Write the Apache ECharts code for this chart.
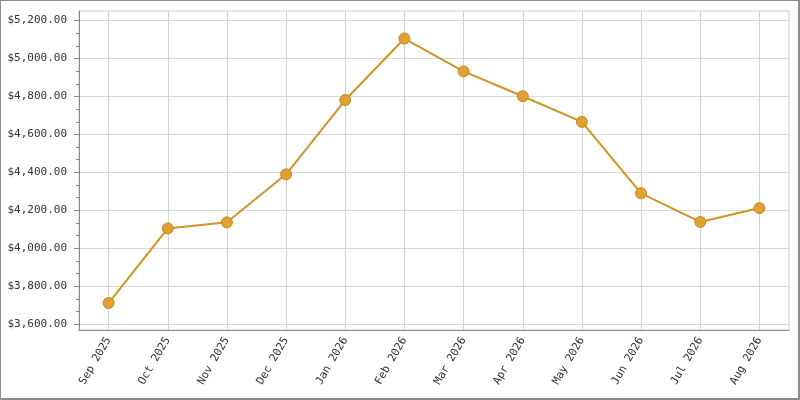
<!DOCTYPE html>
<html>
<head>
    <meta charset="utf-8">
    <title>Monthly amount</title>
    <script src="https://cdn.jsdelivr.net/npm/echarts@6/dist/echarts.min.js"></script>
    <style>
        body { margin: 0; background: #fff; }
        #chart1 { position: absolute; left: 0; top: 0; width: 800px; height: 400px; }
        #frame {
            position: absolute; left: 0; top: 0; width: 800px; height: 400px;
            box-sizing: border-box; pointer-events: none;
            border-style: solid; border-color: #8c8c8c;
            border-width: 1px 2px 2px 1px;
        }
    </style>
</head>
<body>
<div id="chart1"></div>
<div id="frame"></div>

<script type="text/javascript">
    // 月份
    var months = ['Sep 2025', 'Oct 2025', 'Nov 2025', 'Dec 2025', 'Jan 2026', 'Feb 2026',
                  'Mar 2026', 'Apr 2026', 'May 2026', 'Jun 2026', 'Jul 2026', 'Aug 2026'];
    // 金额
    var amounts = [3712, 4105, 4137, 4390, 4781, 5105, 4932, 4801, 4666, 4290, 4139, 4212];
    // y 轴刻度
    var yTicks = [3600, 3800, 4000, 4200, 4400, 4600, 4800, 5000, 5200];

    var yMin = 3570, yMax = 5250;

    // 两个主刻度之间两个小刻度
    var minorTicks = [];
    for (var i = 0; i < yTicks.length - 1; i++) {
        var step = (yTicks[i + 1] - yTicks[i]) / 3;
        minorTicks.push(yTicks[i] + step, yTicks[i] + 2 * step);
    }

    function money(v) {
        var s = Math.round(v).toString().replace(/\B(?=(\d{3})+(?!\d))/g, ',');
        return '$' + s + '.00';
    }

    var axisGray = '#888888';
    var mono = 'DejaVu Sans Mono';

    var myChart = echarts.init(document.getElementById('chart1'));
    myChart.setOption({
        animation: false,
        grid: {
            left: 79, right: 11, top: 11, bottom: 70,
            show: true,
            borderColor: '#cfcfcf',
            borderWidth: 1
        },
        xAxis: {
            type: 'category',
            data: months,
            boundaryGap: true,
            axisLine: { lineStyle: { color: axisGray, width: 1 } },
            axisTick: { alignWithLabel: true, length: 5, interval: 0, lineStyle: { color: axisGray } },
            axisLabel: {
                interval: 0, rotate: 60, margin: 8,
                fontFamily: mono, fontSize: 11, color: '#333'
            },
            splitLine: {
                show: true, alignWithLabel: true, interval: 0,
                lineStyle: { color: '#d2d2d2', width: 1 }
            }
        },
        yAxis: [{
            type: 'value',
            min: yMin,
            max: yMax,
            position: 'left',
            axisLine: { show: true, lineStyle: { color: axisGray, width: 1 } },
            axisTick: { show: true, length: 5, customValues: yTicks, lineStyle: { color: axisGray } },
            axisLabel: {
                customValues: yTicks, margin: 12,
                fontFamily: mono, fontSize: 11, color: '#333',
                formatter: money
            },
            splitLine: { show: true, lineStyle: { color: '#dadada', width: 1 } }
        }, {
            type: 'value',
            min: yMin,
            max: yMax,
            position: 'left',
            axisLine: { show: false },
            axisTick: { show: true, length: 3, customValues: minorTicks, lineStyle: { color: axisGray } },
            axisLabel: { show: false },
            splitLine: { show: false }
        }],
        series: [{
            name: 'Amount',
            type: 'line',
            data: amounts,
            yAxisIndex: 0,
            symbol: 'circle',
            symbolSize: 11,
            lineStyle: { color: '#D4921F', width: 2 },
            itemStyle: { color: '#E0A032', borderColor: '#C7861C', borderWidth: 1 }
        }]
    });
</script>
</body>
</html>
